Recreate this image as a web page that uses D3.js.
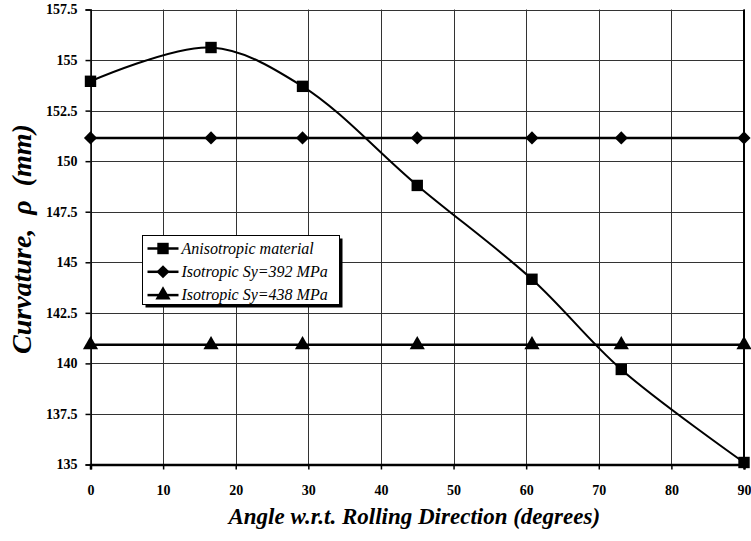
<!DOCTYPE html>
<html>
<head>
<meta charset="utf-8">
<script src="https://cdn.jsdelivr.net/npm/d3@7"></script>
<style>
  body { margin: 0; background: #fff; }
  svg { display: block; }
</style>
</head>
<body>
<div id="chart"></div>
<script>
const width = 751, height = 541;
const margin = { top: 9.5, right: 7, bottom: 76.5, left: 90.5 };
const serif = 'Liberation Serif';

// angle w.r.t. rolling direction (deg)
const angles = [0, 16.6, 29.2, 45, 60.8, 73.1, 90];
const anisotropic = [153.95, 155.62, 153.7, 148.8, 144.16, 139.7, 135.1];
const iso392 = [151.15, 151.15, 151.15, 151.15, 151.15, 151.15, 151.15];
const iso438 = [140.92, 140.92, 140.92, 140.92, 140.92, 140.92, 140.92];

const xTicks = [0, 10, 20, 30, 40, 50, 60, 70, 80, 90];
const yTicks = [135, 137.5, 140, 142.5, 145, 147.5, 150, 152.5, 155, 157.5];

const legendNames = ['Anisotropic material', 'Isotropic Sy=392 MPa', 'Isotropic Sy=438 MPa'];

const svg = d3.select('#chart').append('svg').attr('width', width).attr('height', height);

const x = d3.scaleLinear().domain([0, 90]).range([margin.left, width - margin.right]);
const y = d3.scaleLinear().domain([135, 157.5]).range([height - margin.bottom, margin.top]);

// grid
svg.append('g').selectAll('line').data(yTicks).enter().append('line')
  .attr('x1', x(0)).attr('x2', x(90))
  .attr('y1', d => Math.round(y(d)) + 0.5).attr('y2', d => Math.round(y(d)) + 0.5)
  .attr('stroke', '#333').attr('stroke-width', 1);
svg.append('g').selectAll('line').data(xTicks).enter().append('line')
  .attr('x1', d => Math.round(x(d)) + 0.5).attr('x2', d => Math.round(x(d)) + 0.5)
  .attr('y1', y(157.5)).attr('y2', y(135))
  .attr('stroke', '#333').attr('stroke-width', 1);

// right border a bit heavier
svg.append('line')
  .attr('x1', x(90)).attr('x2', x(90)).attr('y1', y(157.5)).attr('y2', y(135))
  .attr('stroke', '#000').attr('stroke-width', 2);

// axes
const xAxis = svg.append('g')
  .attr('transform', `translate(0,${y(135)})`)
  .call(d3.axisBottom(x).tickValues(xTicks).tickSize(5).tickPadding(16).tickFormat(d3.format('d')));
const yAxis = svg.append('g')
  .attr('transform', `translate(${x(0)},0)`)
  .call(d3.axisLeft(y).tickValues(yTicks).tickSize(5).tickPadding(8).tickFormat(d => d % 1 ? d.toFixed(1) : d));

[xAxis, yAxis].forEach(a => {
  a.attr('font-family', serif);
  a.selectAll('text').style('font-family', serif).attr('font-weight', 'bold').attr('font-size', 14).attr('fill', '#000');
  a.selectAll('line').attr('stroke', '#000').attr('stroke-width', 1.5);
});
xAxis.select('.domain').attr('stroke', '#000').attr('stroke-width', 2.5);
yAxis.select('.domain').attr('stroke', '#000').attr('stroke-width', 1.5);

// series
const lineSmooth = d3.line().x((d, i) => x(angles[i])).y(d => y(d)).curve(d3.curveCatmullRom.alpha(0.5));
const lineStraight = d3.line().x((d, i) => x(angles[i])).y(d => y(d));

svg.append('path').datum(iso392).attr('d', lineStraight)
  .attr('fill', 'none').attr('stroke', '#000').attr('stroke-width', 2.5);
svg.append('path').datum(iso438).attr('d', lineStraight)
  .attr('fill', 'none').attr('stroke', '#000').attr('stroke-width', 2.5);
svg.append('path').datum(anisotropic).attr('d', lineSmooth)
  .attr('fill', 'none').attr('stroke', '#000').attr('stroke-width', 2);

const sq = d3.symbol().type(d3.symbolSquare).size(130);
const dia = d3.symbol().type(d3.symbolDiamond2).size(110);
const tri = d3.symbol().type(d3.symbolTriangle).size(100);
const shapes = [sq, dia, tri];

[[anisotropic, sq], [iso392, dia], [iso438, tri]].forEach(([vals, sym]) => {
  svg.append('g').selectAll('path').data(vals).enter().append('path')
    .attr('d', sym)
    .attr('transform', (d, i) => `translate(${x(angles[i])},${y(d)})`)
    .attr('fill', '#000');
});

// legend
const lg = svg.append('g').attr('transform', 'translate(142.5,235.5)');
lg.append('rect').attr('x', 3).attr('y', 3).attr('width', 197).attr('height', 69).attr('fill', '#000');
lg.append('rect').attr('width', 197).attr('height', 69).attr('fill', '#fff').attr('stroke', '#000').attr('stroke-width', 1);
legendNames.forEach((name, i) => {
  const row = lg.append('g').attr('transform', `translate(0,${13 + i * 23.3})`);
  row.append('line').attr('x1', 5).attr('x2', 36).attr('stroke', '#000').attr('stroke-width', 2.5);
  row.append('path').attr('d', shapes[i]).attr('transform', 'translate(20.5,0)').attr('fill', '#000');
  row.append('text').attr('x', 39).attr('y', 5).style('font-family', serif)
    .attr('font-style', 'italic').attr('font-size', 16).attr('fill', '#000').text(name);
});

// titles
svg.append('text')
  .attr('x', (x(0) + x(90)) / 2 - 3).attr('y', 524)
  .style('font-family', serif)
  .attr('text-anchor', 'middle').attr('font-weight', 'bold').attr('font-style', 'italic')
  .attr('font-size', 23).attr('fill', '#000')
  .text('Angle w.r.t. Rolling Direction (degrees)');

svg.append('text')
  .attr('transform', `translate(31,${(y(135) + y(157.5)) / 2 + 2}) rotate(-90)`)
  .style('font-family', serif)
  .attr('text-anchor', 'middle').attr('font-weight', 'bold').attr('font-style', 'italic')
  .attr('font-size', 28).attr('fill', '#000')
  .style('white-space', 'pre')
  .text('Curvature,  ρ  (mm)');
</script>
</body>
</html>
